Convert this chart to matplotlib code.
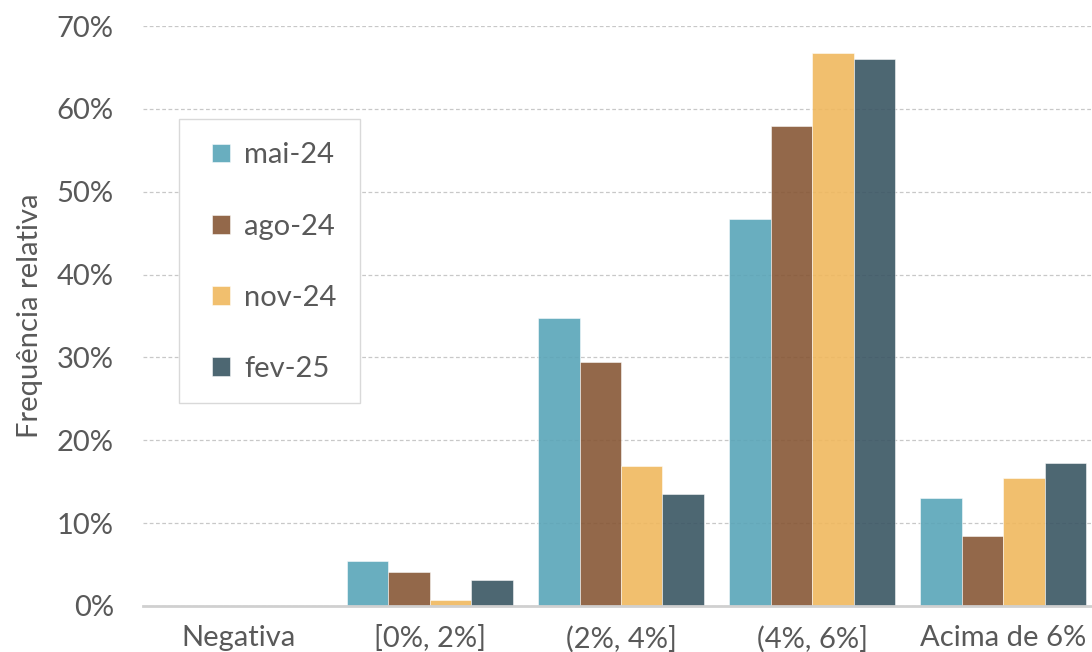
import matplotlib
matplotlib.use("Agg")
import matplotlib.pyplot as plt
import numpy as np
from matplotlib.patches import Rectangle
from matplotlib.ticker import PercentFormatter

# Frequência relativa por faixa (valores em %)
categorias = ["Negativa", "[0%, 2%]", "(2%, 4%]", "(4%, 6%]", "Acima de 6%"]
series = ["mai-24", "ago-24", "nov-24", "fev-25"]
mai_24 = [0.0, 5.4, 34.7, 46.7, 13.0]
ago_24 = [0.0, 4.1, 29.4, 57.9, 8.4]
nov_24 = [0.0, 0.7, 16.9, 66.8, 15.4]
fev_25 = [0.0, 3.1, 13.5, 66.0, 17.3]

CORES = ["#59A5B8", "#875736", "#F0B85E", "#3A5663"]
TEXTO = "#595959"

plt.rcParams["font.family"] = ["Lato", "DejaVu Sans"]

W, H = 1092, 652
fig = plt.figure(figsize=(W / 100, H / 100), dpi=100)
ax = fig.add_axes([143 / W, 46 / H, 956 / W, 580 / H])

x = np.arange(len(categorias))
largura = 0.217
for i, (nome, vals) in enumerate(zip(series, [mai_24, ago_24, nov_24, fev_25])):
    ax.bar(x + (i - 1.5) * largura, vals, width=largura, color=CORES[i], alpha=0.9,
           edgecolor="white", linewidth=0.4, label=nome, zorder=2)

ax.set_xlim(-0.5, 4.5)
ax.set_ylim(0, 70)
ax.set_yticks(np.arange(0, 71, 10))
ax.yaxis.set_major_formatter(PercentFormatter(decimals=0))
ax.set_xticks(x)
ax.set_xticklabels(categorias)
ax.grid(axis="y", color="#C8C8C8", linestyle=(0, (3, 2)), linewidth=0.9, zorder=1)
ax.set_axisbelow(True)

for lado in ("top", "right", "left"):
    ax.spines[lado].set_visible(False)
ax.spines["bottom"].set_color("#D0D0D0")
ax.spines["bottom"].set_linewidth(2)
ax.spines["bottom"].set_zorder(3)

ax.tick_params(axis="both", length=0, labelsize=21, colors=TEXTO)
ax.tick_params(axis="x", pad=14)
ax.tick_params(axis="y", pad=21)
ax.set_ylabel("Frequência relativa", fontsize=21, color=TEXTO, labelpad=10)

# legenda sem moldura + caixa desenhada à parte (mais larga à esquerda, como no original)
leg = fig.legend(loc="upper left", bbox_to_anchor=(189 / W, 1 - 119 / H), fontsize=21,
                 frameon=False, labelspacing=1.55, handlelength=0.6,
                 handleheight=0.6, handletextpad=0.5, borderpad=0.8, borderaxespad=0)
for t in leg.get_texts():
    t.set_color(TEXTO)
fig.patches.append(Rectangle((179 / W, 1 - 403 / H), 181 / W, 284 / H,
                             transform=fig.transFigure, facecolor="white",
                             edgecolor="#D9D9D9", linewidth=1, zorder=3))
leg.set_zorder(4)

fig.savefig("out.png", dpi=100)
